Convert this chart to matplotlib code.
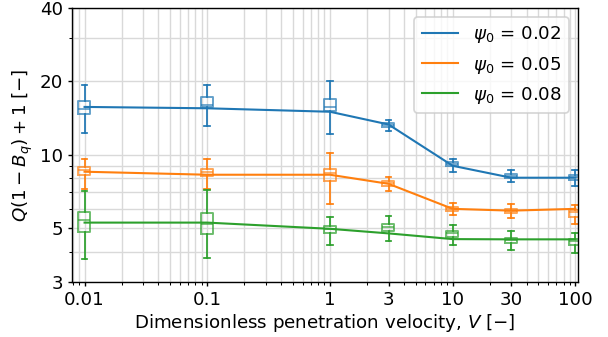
import matplotlib
matplotlib.use("Agg")
import matplotlib.pyplot as plt
from matplotlib.ticker import FixedLocator, NullFormatter

plt.rcParams["font.size"] = 10.5

# velocities
V = [0.01, 0.1, 1, 3, 10, 30, 100]
V_labels = ["0.01", "0.1", "1", "3", "10", "30", "100"]
y_ticks = [3, 5, 10, 20, 40]

psi0 = ["0.02", "0.05", "0.08"]
colors = ["tab:blue", "tab:orange", "tab:green"]

# model curves
model_002 = [15.7, 15.5, 15.0, 13.3, 9.0, 8.04, 8.04]
model_005 = [8.51, 8.27, 8.27, 7.59, 5.99, 5.89, 5.99]
model_008 = [5.26, 5.26, 4.96, 4.75, 4.50, 4.49, 4.49]

# box statistics (whisker low, q1, median, q3, whisker high)
wlo_002 = [12.32, 13.08, 12.20, 12.48, 8.48, 7.69, 7.45]
q1_002 = [14.62, 15.62, 15.09, 13.00, 8.95, 8.04, 7.89]
med_002 = [15.42, 15.97, 15.71, 13.25, 9.12, 8.19, 8.08]
q3_002 = [16.63, 17.18, 16.95, 13.55, 9.29, 8.35, 8.24]
whi_002 = [19.25, 19.31, 20.0, 13.94, 9.63, 8.67, 8.67]

wlo_005 = [7.24, 7.24, 6.28, 7.12, 5.66, 5.50, 5.19]
q1_005 = [8.27, 8.16, 7.76, 7.45, 5.88, 5.74, 5.57]
med_005 = [8.64, 8.48, 8.40, 7.64, 6.01, 5.88, 5.82]
q3_005 = [8.89, 8.76, 8.70, 7.78, 6.12, 5.99, 5.93]
whi_005 = [9.59, 9.63, 10.19, 8.09, 6.34, 6.26, 6.22]

wlo_008 = [3.72, 3.75, 4.25, 4.43, 4.27, 4.06, 3.96]
q1_008 = [4.83, 4.74, 4.78, 4.87, 4.60, 4.35, 4.27]
med_008 = [5.37, 5.19, 4.95, 5.03, 4.75, 4.46, 4.42]
q3_008 = [5.82, 5.76, 5.08, 5.19, 4.87, 4.55, 4.50]
whi_008 = [7.10, 7.17, 5.53, 5.62, 5.12, 4.86, 4.77]

models = [model_002, model_005, model_008]
boxes = [
    (wlo_002, q1_002, med_002, q3_002, whi_002),
    (wlo_005, q1_005, med_005, q3_005, whi_005),
    (wlo_008, q1_008, med_008, q3_008, whi_008),
]

fig = plt.figure(figsize=(608 / 125, 337 / 125), dpi=125)
ax = fig.add_axes([72 / 608, 55 / 337, 506 / 608, 274 / 337])
ax.set_xscale("log")
ax.set_yscale("log")

widths = [0.22 * v for v in V]
for psi, c, model, (wlo, q1, med, q3, whi) in zip(psi0, colors, models, boxes):
    ax.plot(V, model, color=c, lw=1.2, label=r"$\psi_0$ = " + psi, zorder=3)
    stats = [dict(whislo=a, q1=b, med=m, q3=d, whishi=e)
             for a, b, m, d, e in zip(wlo, q1, med, q3, whi)]
    ax.bxp(stats, positions=V, widths=widths, showfliers=False,
           manage_ticks=False,
           boxprops=dict(color=c, lw=1.1, alpha=0.7),
           medianprops=dict(color=c, lw=1.0, alpha=0.7),
           whiskerprops=dict(color=c, lw=1.0),
           capprops=dict(color=c, lw=1.0))

ax.set_xlim(0.0079, 105)
ax.set_ylim(3, 40)
ax.xaxis.set_major_locator(FixedLocator(V))
ax.set_xticklabels(V_labels)
ax.xaxis.set_minor_formatter(NullFormatter())
ax.yaxis.set_major_locator(FixedLocator(y_ticks))
ax.set_yticklabels([str(t) for t in y_ticks])
ax.yaxis.set_minor_formatter(NullFormatter())
ax.tick_params(which="major", length=2.5, pad=2.5)
ax.tick_params(which="minor", length=1.5)
ax.grid(which="both", color="0.85", lw=0.8)
ax.set_axisbelow(True)

ax.set_xlabel(r"Dimensionless penetration velocity, $V$ [$-$]", labelpad=2)
ax.set_ylabel(r"$Q(1-B_q)+1$ [$-$]", labelpad=3)
ax.legend(loc="upper right")

fig.savefig("out.png", dpi=125)
